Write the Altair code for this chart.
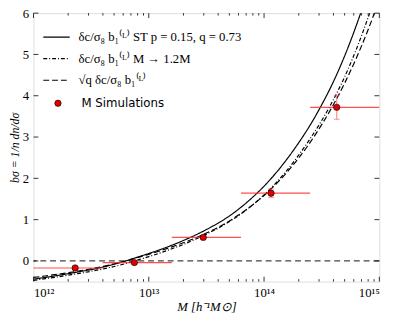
import altair as alt
import pandas as pd

# ---- data ----
log_grid = [12.0, 12.1, 12.2, 12.3, 12.4, 12.5, 12.6, 12.7, 12.8, 12.9,
            13.0, 13.1, 13.2, 13.3, 13.4, 13.5, 13.6, 13.7, 13.8, 13.9,
            14.0, 14.1, 14.2, 14.3, 14.4, 14.5, 14.6, 14.7, 14.8, 14.9, 15.0]
b_st = [-0.44, -0.40, -0.355, -0.31, -0.26, -0.21, -0.15, -0.08, 0.00, 0.09,
        0.18, 0.275, 0.38, 0.495, 0.62, 0.76, 0.915, 1.09, 1.30, 1.54,
        1.81, 2.12, 2.47, 2.86, 3.29, 3.78, 4.33, 4.97, 5.70, 6.52, 7.40]
b_12 = [-0.47, -0.43, -0.39, -0.345, -0.30, -0.25, -0.197, -0.135, -0.063, 0.019,
        0.105, 0.195, 0.295, 0.40, 0.52, 0.65, 0.79, 0.955, 1.14, 1.355,
        1.60, 1.88, 2.20, 2.56, 2.96, 3.40, 3.895, 4.464, 5.123, 5.872, 6.70]
b_sq = [-0.40, -0.365, -0.325, -0.285, -0.24, -0.19, -0.135, -0.07, 0.00, 0.08,
        0.16, 0.245, 0.34, 0.44, 0.55, 0.675, 0.81, 0.97, 1.15, 1.355,
        1.585, 1.85, 2.15, 2.49, 2.87, 3.30, 3.775, 4.31, 4.91, 5.58, 6.33]

series_names = [
    "δc/σ₈ b₁⁽ᴸ⁾ ST  p = 0.15, q = 0.73",
    "δc/σ₈ b₁⁽ᴸ⁾  M → 1.2M",
    "√q δc/σ₈ b₁⁽ᴸ⁾",
]
series_dash = [[1, 0], [4, 2, 1, 2], [6, 3]]

sim_M = [2.3e12, 7.5e12, 2.97e13, 1.15e14, 4.27e14]
sim_b = [-0.17, -0.04, 0.57, 1.64, 3.72]
sim_err = [0.03, 0.03, 0.03, 0.10, 0.29]
bin_lo = [1e12, 3.98e12, 1.585e13, 6.31e13, 2.51e14]
bin_hi = [3.98e12, 1.585e13, 6.31e13, 2.51e14, 1e15]
sim_label = "M Simulations"

x_major = [1e12, 1e13, 1e14, 1e15]
x_major_labels = ["10¹²", "10¹³", "10¹⁴", "10¹⁵"]
x_minor = [m * 10.0 ** e for e in (12, 13, 14) for m in (2, 3, 4, 5, 6, 7, 8, 9)]
y_major = [0, 1, 2, 3, 4, 5, 6]

W, H = 353, 274

# ---- tables ----
rows = []
for name, vals in zip(series_names, [b_st, b_12, b_sq]):
    for lg, v in zip(log_grid, vals):
        rows.append({"M": 10 ** lg, "b": v, "series": name})
curves = pd.DataFrame(rows)
sims = pd.DataFrame({
    "M": sim_M, "b": sim_b, "lo": [b - e for b, e in zip(sim_b, sim_err)],
    "hi": [b + e for b, e in zip(sim_b, sim_err)], "x1": bin_lo, "x2": bin_hi,
    "label": [sim_label] * len(sim_M),
})

xs = alt.Scale(type="log", domain=[1e12, 1e15], nice=False)
ys = alt.Scale(domain=[-0.5, 6], nice=False, zero=False)

label_expr = " : ".join(
    f"datum.value == {v:.0e} ? '{l}'" for v, l in zip(x_major[:-1], x_major_labels[:-1])
) + f" : '{x_major_labels[-1]}'"

xaxis = alt.Axis(values=x_major, labelExpr=label_expr, ticks=False, domain=False, grid=False,
                 labelFont="Liberation Serif", labelFontSize=13, labelPadding=5,
                 labelColor="black", title="M [h⁻¹M⊙]", titleFont="Liberation Serif",
                 titleFontStyle="italic", titleFontWeight="normal", titleFontSize=13,
                 titlePadding=2, titleColor="black")
yaxis = alt.Axis(values=y_major, ticks=False, domain=False, grid=False,
                 labelFont="Liberation Serif", labelFontSize=13, labelPadding=5,
                 labelColor="black", title="bσ = 1/n dn/dσ", titleFont="Liberation Serif",
                 titleFontStyle="italic", titleFontWeight="normal", titleFontSize=12,
                 titlePadding=1, titleColor="black")

base_x = alt.X("M:Q", scale=xs, axis=xaxis)

zero = alt.Chart(pd.DataFrame({"z": [0]})).mark_rule(
    color="#444", strokeDash=[6, 4], strokeWidth=1.2
).encode(y=alt.Y("z:Q", scale=ys, axis=yaxis))

lines = alt.Chart(curves).mark_line(color="black", strokeWidth=1.2, clip=True,
                                    interpolate="monotone").encode(
    x=base_x,
    y=alt.Y("b:Q", scale=ys, axis=yaxis),
    strokeDash=alt.StrokeDash(
        "series:N",
        scale=alt.Scale(domain=series_names, range=series_dash),
        legend=alt.Legend(title=None, orient="none", legendX=9, legendY=10,
                          symbolType="stroke", symbolSize=729, symbolStrokeColor="black",
                          symbolStrokeWidth=1.2, rowPadding=0, labelOffset=8,
                          labelFont="Liberation Serif", labelFontSize=13,
                          labelColor="black", labelLimit=320),
    ),
)

hbars = alt.Chart(sims).mark_rule(color="#ff3030", strokeWidth=1.2, opacity=0.85).encode(
    x=alt.X("x1:Q", scale=xs, axis=xaxis), x2="x2:Q", y=alt.Y("b:Q", scale=ys, axis=yaxis)
)
vbars = alt.Chart(sims).mark_rule(color="#ff6060", strokeWidth=1.2, opacity=0.7).encode(
    x=alt.X("M:Q", scale=xs, axis=xaxis), y=alt.Y("lo:Q", scale=ys, axis=yaxis), y2="hi:Q"
)
caps_lo = alt.Chart(sims).mark_tick(color="#ff6060", orient="horizontal", size=6,
                                    thickness=1, opacity=0.7).encode(
    x=alt.X("M:Q", scale=xs, axis=xaxis), y=alt.Y("lo:Q", scale=ys, axis=yaxis)
)
caps_hi = alt.Chart(sims).mark_tick(color="#ff6060", orient="horizontal", size=6,
                                    thickness=1, opacity=0.7).encode(
    x=alt.X("M:Q", scale=xs, axis=xaxis), y=alt.Y("hi:Q", scale=ys, axis=yaxis)
)
pts = alt.Chart(sims).mark_point(shape="circle", filled=True, size=42, stroke="black",
                                 strokeWidth=0.6, opacity=1).encode(
    x=alt.X("M:Q", scale=xs, axis=xaxis),
    y=alt.Y("b:Q", scale=ys, axis=yaxis),
    fill=alt.Fill("label:N", scale=alt.Scale(domain=[sim_label], range=["#e00000"]),
                  legend=alt.Legend(title=None, orient="none", legendX=19, legendY=86,
                                    symbolType="circle", symbolSize=42,
                                    symbolStrokeColor="black", symbolStrokeWidth=0.6,
                                    labelOffset=18, labelFont="DejaVu Sans",
                                    labelFontSize=12, labelColor="black")),
)

# inward ticks (matplotlib style) on all four sides
def xticks(vals, length):
    d = pd.DataFrame({"M": vals})
    bot = alt.Chart(d).mark_rule(color="black", strokeWidth=0.8).encode(
        x=alt.X("M:Q", scale=xs, axis=xaxis), y=alt.value(H), y2=alt.value(H - length))
    top = alt.Chart(d).mark_rule(color="black", strokeWidth=0.8).encode(
        x=alt.X("M:Q", scale=xs, axis=xaxis), y=alt.value(0), y2=alt.value(length))
    return [bot, top]

def yticks(vals, length):
    d = pd.DataFrame({"v": vals})
    left = alt.Chart(d).mark_rule(color="black", strokeWidth=0.8).encode(
        y=alt.Y("v:Q", scale=ys, axis=yaxis), x=alt.value(0), x2=alt.value(length))
    right = alt.Chart(d).mark_rule(color="black", strokeWidth=0.8).encode(
        y=alt.Y("v:Q", scale=ys, axis=yaxis), x=alt.value(W), x2=alt.value(W - length))
    return [left, right]

layers = [zero, lines, hbars, vbars, caps_lo, caps_hi, pts]
layers += xticks(x_major, 5) + xticks(x_minor, 2.5) + yticks(y_major, 5)

chart = alt.layer(*layers).resolve_legend(fill="independent", strokeDash="independent").properties(
    width=W, height=H,
    autosize=alt.AutoSizeParams(type="none"),
    padding={"left": 26, "top": 2, "right": 17, "bottom": 38},
).configure_view(stroke="black", strokeWidth=1.2).configure(background="white")

chart.save("out.html", embed_options={"renderer": "svg", "actions": False})
